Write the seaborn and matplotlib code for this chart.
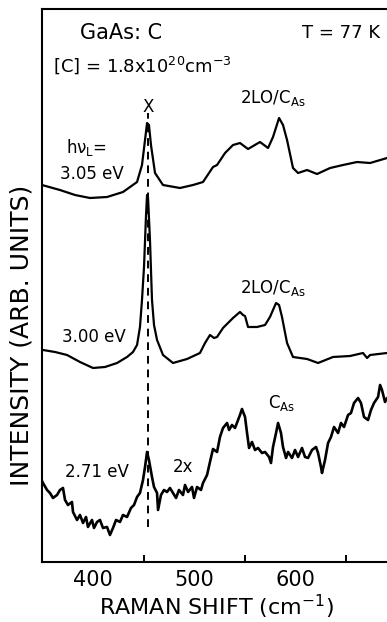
import matplotlib
matplotlib.use("Agg")
import matplotlib.pyplot as plt
import seaborn as sns
import pandas as pd

# Raman-спектры GaAs:C при трёх энергиях возбуждения
shift_305 = [349.5, 367.3, 382.2, 397.0, 413.9, 429.7, 443.6, 448.5, 451.5, 453.5, 455.4, 457.4,
             461.4, 469.3, 486.1, 499.0, 508.9, 518.8, 522.8, 530.7, 538.6, 545.5, 553.5, 565.3,
             573.3, 578.2, 584.2, 588.1, 592.1, 598.0, 603.0, 611.9, 621.8, 634.7, 647.5, 661.4,
             674.3, 691.1]
int_305 = [377, 372, 367, 364, 365, 370, 380, 397, 422, 439, 437, 417,
           389, 377, 374, 377, 380, 395, 397, 409, 417, 419, 413, 420,
           414, 425, 444, 437, 422, 394, 389, 392, 388, 394, 397, 400,
           399, 404]

shift_300 = [350.5, 362.4, 374.3, 387.1, 400.0, 411.9, 423.8, 433.7, 439.6, 443.6, 446.5, 448.5,
             450.5, 452.5, 453.5, 454.5, 456.4, 458.4, 460.4, 463.4, 469.3, 479.2, 493.1, 505.9,
             510.9, 515.8, 519.8, 522.8, 528.7, 538.6, 545.5, 548.5, 550.5, 553.5, 562.4, 570.3,
             575.2, 581.2, 584.2, 587.1, 592.1, 598.0, 611.9, 622.8, 637.6, 654.5, 667.3, 671.3,
             674.3, 691.1]
int_300 = [212, 210, 207, 200, 194, 195, 199, 205, 210, 217, 235, 262,
           295, 347, 367, 364, 322, 262, 237, 222, 207, 199, 203, 209,
           219, 227, 224, 225, 234, 244, 250, 247, 246, 235, 235, 237,
           245, 259, 257, 245, 219, 205, 203, 199, 205, 206, 209, 204,
           207, 209]

shift_271 = [349.5, 350.5, 354.5, 357.4, 360.4, 364.4, 367.3, 370.3, 372.3, 375.2, 379.2, 380.2,
             384.2, 387.1, 390.1, 393.1, 395.0, 399.0, 401.0, 404.0, 406.9, 409.9, 413.9, 416.8,
             419.8, 422.8, 426.7, 429.7, 433.7, 437.6, 440.6, 443.6, 446.5, 449.5, 451.5, 453.5,
             455.4, 458.4, 460.4, 463.4, 464.4, 467.3, 470.3, 473.3, 476.2, 479.2, 482.2, 485.1,
             489.1, 491.1, 494.1, 498.0, 500.0, 503.0, 506.9, 508.9, 512.9, 515.8, 518.8, 522.8,
             525.7, 528.7, 532.7, 534.7, 537.6, 540.6, 543.6, 545.5, 547.5, 550.5, 552.5, 554.5,
             557.4, 560.4, 563.4, 567.3, 570.3, 574.3, 576.2, 578.2, 581.2, 583.2, 586.1, 588.1,
             591.1, 593.1, 597.0, 600.0, 603.0, 606.9, 609.9, 612.9, 616.8, 620.8, 622.8, 625.7,
             626.7, 629.7, 632.7, 635.6, 638.6, 642.6, 645.5, 648.5, 652.5, 655.4, 658.4, 662.4,
             665.3, 668.3, 672.3, 675.2, 678.2, 682.2, 684.2, 686.1, 689.1, 691.1]
int_271 = [81, 79, 72, 69, 64, 67, 72, 74, 62, 57, 60, 50,
           42, 47, 39, 45, 35, 42, 34, 40, 42, 34, 35, 27,
           34, 42, 40, 47, 45, 54, 57, 65, 69, 82, 95, 110,
           102, 85, 75, 69, 52, 67, 72, 70, 74, 69, 64, 72,
           67, 77, 70, 75, 64, 75, 72, 79, 87, 100, 113, 110,
           125, 134, 139, 132, 137, 134, 142, 147, 153, 145, 129, 114,
           120, 112, 114, 109, 110, 105, 99, 115, 129, 139, 129, 115,
           104, 110, 104, 112, 105, 114, 105, 104, 112, 115, 109, 95,
           89, 102, 119, 125, 135, 129, 139, 135, 147, 149, 159, 164,
           159, 145, 142, 152, 159, 165, 177, 172, 160, 164]

x_peak = 454  # линия "X"

sns.set_style("white")
plt.rcParams['font.family'] = ['DejaVu Sans']
plt.rcParams['mathtext.default'] = 'regular'
plt.rcParams['text.color'] = 'black'
plt.rcParams['axes.labelcolor'] = 'black'
plt.rcParams['xtick.color'] = 'black'

fig = plt.figure(figsize=(3.87, 6.22), dpi=100)
ax = fig.add_axes([0.1085, 0.0965, 0.8992, 0.889])

widths = [1.6, 1.6, 1.9]
for (sh, it), w in zip([(shift_305, int_305), (shift_300, int_300), (shift_271, int_271)], widths):
    df = pd.DataFrame({'shift': sh, 'intensity': it})
    sns.lineplot(data=df, x='shift', y='intensity', sort=False, color='black', lw=w, ax=ax)

ax.vlines(x_peak, 35, 449, colors='black', lw=1.4, linestyles=(0, (4, 3)))

ax.set_xlim(349.5, 694)
ax.set_ylim(0, 553)
ax.set_xticks([400, 500, 600])
ax.set_xticks([450, 550, 650], minor=True)
ax.set_yticks([])
ax.tick_params(axis='x', which='major', direction='in', length=9, width=1.4, labelsize=15, pad=6)
ax.tick_params(axis='x', which='minor', direction='in', length=5, width=1.4, bottom=True)
for s in ax.spines.values():
    s.set_linewidth(1.5)
    s.set_color('black')
ax.spines['right'].set_visible(False)

ax.set_xlabel('RAMAN SHIFT (cm$^{-1}$)', fontsize=16, labelpad=2)
ax.set_ylabel('INTENSITY (ARB. UNITS)', fontsize=18)
ax.yaxis.set_label_coords(-0.024, 0.41)

# подписи
ax.text(387.1, 529, 'GaAs: C', fontsize=15, ha='left', va='center')
ax.text(684.2, 529, 'T = 77 K', fontsize=13, ha='right', va='center')
ax.text(360.4, 497, '[C] = 1.8x10$^{20}$cm$^{-3}$', fontsize=13, ha='left', va='center')
ax.text(454.5, 455, 'X', fontsize=12, ha='center', va='center')
ax.text(545.5, 464, '2LO/C$_{As}$', fontsize=12, ha='left', va='center')
ax.text(373.3, 415, 'h$\\nu_L$=', fontsize=12, ha='left', va='center')
ax.text(367.3, 388, '3.05 eV', fontsize=12, ha='left', va='center')
ax.text(369.3, 225, '3.00 eV', fontsize=12, ha='left', va='center')
ax.text(545.5, 274, '2LO/C$_{As}$', fontsize=12, ha='left', va='center')
ax.text(573.3, 159, 'C$_{As}$', fontsize=12, ha='left', va='center')
ax.text(372.3, 90, '2.71 eV', fontsize=12, ha='left', va='center')
ax.text(479.2, 95, '2x', fontsize=12, ha='left', va='center')

fig.savefig('out.png', dpi=100)
